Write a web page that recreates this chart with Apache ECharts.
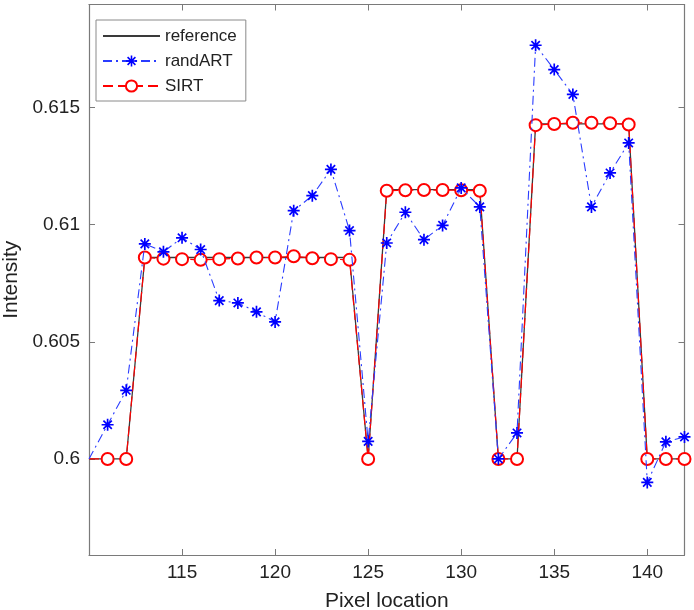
<!DOCTYPE html>
<html>
<head>
<meta charset="utf-8">
<script src="https://cdn.jsdelivr.net/npm/echarts@6/dist/echarts.min.js"></script>
<style>html,body{margin:0;padding:0;background:#fff}#c{width:694px;height:610px}</style>
</head>
<body>
<div id="c"></div>
<script>
const pixels = [110,111,112,113,114,115,116,117,118,119,120,121,122,123,124,125,126,127,128,129,130,131,132,133,134,135,136,137,138,139,140,141,142];
const reference = [0.6,0.6,0.6,
  0.6086,0.6086,0.6086,0.6086,0.6086,0.6086,0.6086,0.6086,0.6086,0.6086,0.6086,0.6086,
  0.6,
  0.6115,0.6115,0.6115,0.6115,0.6115,0.6115,
  0.6,0.6,
  0.6143,0.6143,0.6143,0.6143,0.6143,0.6143,
  0.6,0.6,0.6];
const randART = [0.6,0.60146,0.60293,
  0.60918,0.60884,0.60944,0.60894,0.60676,0.60666,0.60628,0.60585,0.6106,0.61124,0.61236,0.60975,
  0.60075,
  0.60922,0.61053,0.60936,0.60997,0.61157,0.61076,
  0.6,0.60111,
  0.61766,0.61662,0.61556,0.61076,0.61221,0.61349,
  0.599,0.60073,0.60094];
const SIRT = [0.6,0.6,0.6,
  0.6086,0.60855,0.60853,0.6085,0.60853,0.60856,0.6086,0.6086,0.60865,0.60857,0.60853,0.6085,
  0.6,
  0.61145,0.61147,0.61148,0.61148,0.61147,0.61145,
  0.6,0.6,
  0.61425,0.6143,0.61435,0.61435,0.61433,0.61428,
  0.6,0.6,0.6];
const seriesNames = ['reference','randART','SIRT'];
const xRange = [110, 142];
const yRange = [0.5959, 0.6194];

const asterisk = 'path://M43,0 L57,0 L57,100 L43,100 Z M0,43 L100,43 L100,57 L0,57 Z M10,20 L20,10 L90,80 L80,90 Z M80,10 L90,20 L20,90 L10,80 Z';

function pts(vals, hideFirst) {
  return pixels.map((x, i) => {
    const item = { value: [x, vals[i]] };
    if (hideFirst && i === 0) item.symbol = 'none';
    return item;
  });
}

const axisColor = '#7a7a7a';
const textColor = '#222';
const font = 'Liberation Sans, Arial, Helvetica, sans-serif';

const chart = echarts.init(document.getElementById('c'), null, { renderer: 'canvas' });
chart.setOption({
  backgroundColor: '#fff',
  animation: false,
  textStyle: { fontFamily: font },
  grid: { left: 89, right: 9.5, top: 4.5, bottom: 55, containLabel: false, outerBoundsMode: 'none' },
  legend: {
    data: [
      { name: seriesNames[0], itemStyle: { color: 'rgba(0,0,0,0)', borderWidth: 0 } },
      { name: seriesNames[1] },
      { name: seriesNames[2] }
    ],
    orient: 'vertical',
    left: 96, top: 20,
    padding: [7, 9, 6, 6],
    itemWidth: 57, itemHeight: 14, itemGap: 7,
    borderColor: '#8a8a8a', borderWidth: 1, backgroundColor: '#fff',
    textStyle: { fontSize: 17, color: textColor, fontFamily: font, lineHeight: 18 }
  },
  xAxis: [{
    type: 'value', min: xRange[0], max: xRange[1], interval: 5,
    name: 'Pixel location', nameLocation: 'middle', nameGap: 36,
    nameTextStyle: { fontSize: 21, color: textColor, fontFamily: font },
    axisLine: { show: true, onZero: false, lineStyle: { color: axisColor, width: 1.2 } },
    axisTick: { inside: true, length: 6, lineStyle: { color: axisColor } },
    axisLabel: { showMinLabel: false, showMaxLabel: false, fontSize: 19, color: textColor, margin: 8, fontFamily: font },
    splitLine: { show: false }
  }, {
    type: 'value', position: 'top', min: xRange[0], max: xRange[1], interval: 5,
    axisLine: { show: true, onZero: false, lineStyle: { color: axisColor, width: 1.2 } },
    axisTick: { inside: true, length: 6, lineStyle: { color: axisColor } },
    axisLabel: { show: false }, splitLine: { show: false }
  }],
  yAxis: [{
    type: 'value', min: yRange[0], max: yRange[1], splitNumber: 5, minInterval: 0.005, maxInterval: 0.005,
    name: 'Intensity', nameLocation: 'middle', nameGap: 66,
    nameTextStyle: { fontSize: 21, color: textColor, fontFamily: font },
    axisLine: { show: true, onZero: false, lineStyle: { color: axisColor, width: 1.2 } },
    axisTick: { inside: true, length: 6, lineStyle: { color: axisColor } },
    axisLabel: { showMinLabel: false, showMaxLabel: false, fontSize: 19, color: textColor, margin: 9, fontFamily: font,
      formatter: v => String(+(+v).toFixed(4)) },
    splitLine: { show: false }
  }, {
    type: 'value', position: 'right', min: yRange[0], max: yRange[1], splitNumber: 5, minInterval: 0.005, maxInterval: 0.005,
    axisLine: { show: true, onZero: false, lineStyle: { color: axisColor, width: 1.2 } },
    axisTick: { inside: true, length: 6, lineStyle: { color: axisColor } },
    axisLabel: { show: false }, splitLine: { show: false }
  }],
  series: [{
    name: 'reference', type: 'line', data: pts(reference, false),
    showSymbol: false, symbol: 'none', z: 1,
    lineStyle: { color: '#3a3a3a', width: 1.3 }, itemStyle: { color: '#3a3a3a' }
  }, {
    name: 'randART', type: 'line', data: pts(randART, true),
    symbol: asterisk, symbolSize: 12, z: 3,
    lineStyle: { color: '#2a3cff', width: 1.1, type: [9, 4, 2, 4] },
    itemStyle: { color: '#0000ff' }
  }, {
    name: 'SIRT', type: 'line', data: pts(SIRT, true),
    symbol: 'emptyCircle', symbolSize: 12, z: 2,
    lineStyle: { color: '#ff0000', width: 1.2, type: [10, 5] },
    itemStyle: { color: '#ff0000', borderColor: '#ff0000', borderWidth: 1.3 }
  }]
});
</script>
</body>
</html>
